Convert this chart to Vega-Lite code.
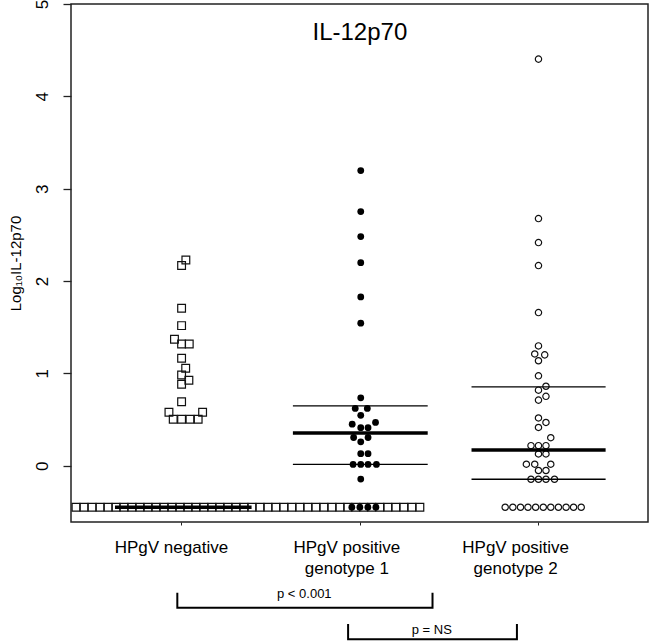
{
  "$schema": "https://vega.github.io/schema/vega-lite/v6.json",
  "width": 577,
  "height": 518,
  "autosize": "none",
  "padding": {"left": 71, "top": 4, "right": 3, "bottom": 121},
  "config": {
    "font": "Liberation Sans",
    "view": {"stroke": "#222", "strokeWidth": 1.5},
    "axis": {"grid": false, "domain": false, "tickColor": "#222", "labelColor": "#000", "titleColor": "#000"}
  },
  "datasets": {
    "pts": [
      {"g": "HPgV negative", "x": 1.025, "y": 2.228}, {"g": "HPgV negative", "x": 1.001, "y": 2.167},
      {"g": "HPgV negative", "x": 1.001, "y": 1.705}, {"g": "HPgV negative", "x": 1.001, "y": 1.517},
      {"g": "HPgV negative", "x": 0.961, "y": 1.369}, {"g": "HPgV negative", "x": 1.001, "y": 1.318},
      {"g": "HPgV negative", "x": 1.044, "y": 1.318}, {"g": "HPgV negative", "x": 1.001, "y": 1.163},
      {"g": "HPgV negative", "x": 1.024, "y": 1.055}, {"g": "HPgV negative", "x": 1.001, "y": 0.983},
      {"g": "HPgV negative", "x": 1.042, "y": 0.925}, {"g": "HPgV negative", "x": 1.001, "y": 0.882},
      {"g": "HPgV negative", "x": 1.001, "y": 0.693}, {"g": "HPgV negative", "x": 0.930, "y": 0.579},
      {"g": "HPgV negative", "x": 1.119, "y": 0.579}, {"g": "HPgV negative", "x": 0.954, "y": 0.503},
      {"g": "HPgV negative", "x": 1.001, "y": 0.503}, {"g": "HPgV negative", "x": 1.048, "y": 0.503},
      {"g": "HPgV negative", "x": 1.094, "y": 0.503},
      {"g": "HPgV negative", "x": 0.408, "y": -0.45}, {"g": "HPgV negative", "x": 0.453, "y": -0.45},
      {"g": "HPgV negative", "x": 0.498, "y": -0.45}, {"g": "HPgV negative", "x": 0.543, "y": -0.45},
      {"g": "HPgV negative", "x": 0.588, "y": -0.45}, {"g": "HPgV negative", "x": 0.633, "y": -0.45},
      {"g": "HPgV negative", "x": 0.677, "y": -0.45}, {"g": "HPgV negative", "x": 0.722, "y": -0.45},
      {"g": "HPgV negative", "x": 0.767, "y": -0.45}, {"g": "HPgV negative", "x": 0.812, "y": -0.45},
      {"g": "HPgV negative", "x": 0.857, "y": -0.45}, {"g": "HPgV negative", "x": 0.902, "y": -0.45},
      {"g": "HPgV negative", "x": 0.947, "y": -0.45}, {"g": "HPgV negative", "x": 0.992, "y": -0.45},
      {"g": "HPgV negative", "x": 1.037, "y": -0.45}, {"g": "HPgV negative", "x": 1.081, "y": -0.45},
      {"g": "HPgV negative", "x": 1.126, "y": -0.45}, {"g": "HPgV negative", "x": 1.171, "y": -0.45},
      {"g": "HPgV negative", "x": 1.216, "y": -0.45}, {"g": "HPgV negative", "x": 1.261, "y": -0.45},
      {"g": "HPgV negative", "x": 1.306, "y": -0.45}, {"g": "HPgV negative", "x": 1.351, "y": -0.45},
      {"g": "HPgV negative", "x": 1.396, "y": -0.45}, {"g": "HPgV negative", "x": 1.441, "y": -0.45},
      {"g": "HPgV negative", "x": 1.486, "y": -0.45}, {"g": "HPgV negative", "x": 1.530, "y": -0.45},
      {"g": "HPgV negative", "x": 1.575, "y": -0.45}, {"g": "HPgV negative", "x": 1.620, "y": -0.45},
      {"g": "HPgV negative", "x": 1.665, "y": -0.45}, {"g": "HPgV negative", "x": 1.710, "y": -0.45},
      {"g": "HPgV negative", "x": 1.755, "y": -0.45}, {"g": "HPgV negative", "x": 1.800, "y": -0.45},
      {"g": "HPgV negative", "x": 1.845, "y": -0.45}, {"g": "HPgV negative", "x": 1.890, "y": -0.45},
      {"g": "HPgV negative", "x": 1.935, "y": -0.45}, {"g": "HPgV negative", "x": 1.979, "y": -0.45},
      {"g": "HPgV negative", "x": 2.024, "y": -0.45}, {"g": "HPgV negative", "x": 2.069, "y": -0.45},
      {"g": "HPgV negative", "x": 2.114, "y": -0.45}, {"g": "HPgV negative", "x": 2.159, "y": -0.45},
      {"g": "HPgV negative", "x": 2.204, "y": -0.45}, {"g": "HPgV negative", "x": 2.249, "y": -0.45},
      {"g": "HPgV negative", "x": 2.294, "y": -0.45}, {"g": "HPgV negative", "x": 2.339, "y": -0.45},
      {"g": "genotype 1", "x": 2.007, "y": 3.196}, {"g": "genotype 1", "x": 2.007, "y": 2.752},
      {"g": "genotype 1", "x": 2.007, "y": 2.481}, {"g": "genotype 1", "x": 2.007, "y": 2.199},
      {"g": "genotype 1", "x": 2.007, "y": 1.828}, {"g": "genotype 1", "x": 2.007, "y": 1.543},
      {"g": "genotype 1", "x": 2.007, "y": 0.735}, {"g": "genotype 1", "x": 1.976, "y": 0.62},
      {"g": "genotype 1", "x": 2.044, "y": 0.62}, {"g": "genotype 1", "x": 2.007, "y": 0.545},
      {"g": "genotype 1", "x": 1.959, "y": 0.449}, {"g": "genotype 1", "x": 2.090, "y": 0.468},
      {"g": "genotype 1", "x": 2.007, "y": 0.412}, {"g": "genotype 1", "x": 2.048, "y": 0.412},
      {"g": "genotype 1", "x": 1.967, "y": 0.305}, {"g": "genotype 1", "x": 2.048, "y": 0.305},
      {"g": "genotype 1", "x": 2.007, "y": 0.258}, {"g": "genotype 1", "x": 2.007, "y": 0.13},
      {"g": "genotype 1", "x": 2.048, "y": 0.13}, {"g": "genotype 1", "x": 1.964, "y": 0.013},
      {"g": "genotype 1", "x": 2.007, "y": 0.013}, {"g": "genotype 1", "x": 2.048, "y": 0.013},
      {"g": "genotype 1", "x": 2.095, "y": 0.013}, {"g": "genotype 1", "x": 2.007, "y": -0.145},
      {"g": "genotype 1", "x": 1.957, "y": -0.45}, {"g": "genotype 1", "x": 2.002, "y": -0.45},
      {"g": "genotype 1", "x": 2.047, "y": -0.45}, {"g": "genotype 1", "x": 2.092, "y": -0.45},
      {"g": "genotype 2", "x": 3.005, "y": 4.403}, {"g": "genotype 2", "x": 3.005, "y": 2.676},
      {"g": "genotype 2", "x": 3.005, "y": 2.416}, {"g": "genotype 2", "x": 3.005, "y": 2.167},
      {"g": "genotype 2", "x": 3.005, "y": 1.658}, {"g": "genotype 2", "x": 3.005, "y": 1.297},
      {"g": "genotype 2", "x": 2.984, "y": 1.21}, {"g": "genotype 2", "x": 3.040, "y": 1.20},
      {"g": "genotype 2", "x": 3.005, "y": 1.136}, {"g": "genotype 2", "x": 3.005, "y": 0.973},
      {"g": "genotype 2", "x": 3.047, "y": 0.86}, {"g": "genotype 2", "x": 3.005, "y": 0.818},
      {"g": "genotype 2", "x": 3.047, "y": 0.751}, {"g": "genotype 2", "x": 3.005, "y": 0.710},
      {"g": "genotype 2", "x": 3.005, "y": 0.517}, {"g": "genotype 2", "x": 3.047, "y": 0.468},
      {"g": "genotype 2", "x": 3.005, "y": 0.414}, {"g": "genotype 2", "x": 3.074, "y": 0.303},
      {"g": "genotype 2", "x": 2.963, "y": 0.217}, {"g": "genotype 2", "x": 3.005, "y": 0.217},
      {"g": "genotype 2", "x": 3.047, "y": 0.217}, {"g": "genotype 2", "x": 3.005, "y": 0.127},
      {"g": "genotype 2", "x": 3.047, "y": 0.127}, {"g": "genotype 2", "x": 2.937, "y": 0.016},
      {"g": "genotype 2", "x": 2.984, "y": 0.016}, {"g": "genotype 2", "x": 3.074, "y": 0.016},
      {"g": "genotype 2", "x": 3.005, "y": -0.052}, {"g": "genotype 2", "x": 3.047, "y": -0.052},
      {"g": "genotype 2", "x": 2.963, "y": -0.147}, {"g": "genotype 2", "x": 3.005, "y": -0.147},
      {"g": "genotype 2", "x": 3.047, "y": -0.147}, {"g": "genotype 2", "x": 3.095, "y": -0.147},
      {"g": "genotype 2", "x": 2.818, "y": -0.45}, {"g": "genotype 2", "x": 2.861, "y": -0.45},
      {"g": "genotype 2", "x": 2.904, "y": -0.45}, {"g": "genotype 2", "x": 2.946, "y": -0.45},
      {"g": "genotype 2", "x": 2.989, "y": -0.45}, {"g": "genotype 2", "x": 3.032, "y": -0.45},
      {"g": "genotype 2", "x": 3.074, "y": -0.45}, {"g": "genotype 2", "x": 3.117, "y": -0.45},
      {"g": "genotype 2", "x": 3.160, "y": -0.45}, {"g": "genotype 2", "x": 3.202, "y": -0.45},
      {"g": "genotype 2", "x": 3.245, "y": -0.45}
    ],
    "stats": [
      {"g": "HPgV negative", "stat": "median", "x": 0.627, "x2": 1.394, "y": -0.45},
      {"g": "genotype 1", "stat": "quartile", "x": 1.626, "x2": 2.383, "y": 0.647},
      {"g": "genotype 1", "stat": "median", "x": 1.626, "x2": 2.383, "y": 0.354},
      {"g": "genotype 1", "stat": "quartile", "x": 1.626, "x2": 2.383, "y": 0.015},
      {"g": "genotype 2", "stat": "quartile", "x": 2.629, "x2": 3.382, "y": 0.853},
      {"g": "genotype 2", "stat": "median", "x": 2.629, "x2": 3.382, "y": 0.170},
      {"g": "genotype 2", "stat": "quartile", "x": 2.629, "x2": 3.382, "y": -0.147}
    ],
    "cats": [
      {"x": 0.944, "y": -0.946, "text": "HPgV negative"},
      {"x": 1.929, "y": -0.946, "text": "HPgV positive"},
      {"x": 1.929, "y": -1.168, "text": "genotype 1"},
      {"x": 2.877, "y": -0.946, "text": "HPgV positive"},
      {"x": 2.877, "y": -1.168, "text": "genotype 2"}
    ],
    "ptext": [
      {"x": 1.690, "y": -1.433, "text": "p < 0.001"},
      {"x": 2.406, "y": -1.827, "text": "p = NS"}
    ],
    "brackets": [
      {"b": 1, "i": 0, "x": 0.977, "y": -1.376}, {"b": 1, "i": 1, "x": 0.977, "y": -1.538},
      {"b": 1, "i": 2, "x": 2.410, "y": -1.538}, {"b": 1, "i": 3, "x": 2.410, "y": -1.376},
      {"b": 2, "i": 0, "x": 1.936, "y": -1.715}, {"b": 2, "i": 1, "x": 1.936, "y": -1.881},
      {"b": 2, "i": 2, "x": 2.884, "y": -1.881}, {"b": 2, "i": 3, "x": 2.884, "y": -1.715}
    ],
    "ttl": [{"x": 2.002, "y": 4.688, "text": "IL-12p70"}]
  },
  "encoding": {
    "x": {
      "field": "x", "type": "quantitative",
      "scale": {"domain": [0.38, 3.62], "nice": false, "zero": false},
      "axis": {"values": [1, 2, 3], "labels": false, "tickSize": 3, "title": null}
    },
    "y": {
      "field": "y", "type": "quantitative",
      "scale": {"domain": [-0.61, 5], "nice": false, "zero": false},
      "axis": {
        "values": [0, 1, 2, 3, 4, 5], "tickSize": 8, "tickWidth": 1.3, "labelAngle": 270,
        "labelAlign": "center", "labelBaseline": "bottom", "labelPadding": 12,
        "labelFontSize": 17, "title": "Log₁₀IL-12p70", "titleFontSize": 15,
        "titleFontWeight": "normal", "titlePadding": 10
      }
    }
  },
  "layer": [
    {
      "data": {"name": "pts"},
      "transform": [{"filter": "datum.g === 'HPgV negative'"}],
      "mark": {"type": "point", "shape": "square", "filled": false, "stroke": "#111", "strokeWidth": 1.2, "size": 60, "opacity": 1}
    },
    {
      "data": {"name": "pts"},
      "transform": [{"filter": "datum.g === 'genotype 1'"}],
      "mark": {"type": "point", "shape": "circle", "filled": true, "fill": "#000", "size": 46, "opacity": 1}
    },
    {
      "data": {"name": "pts"},
      "transform": [{"filter": "datum.g === 'genotype 2'"}],
      "mark": {"type": "point", "shape": "circle", "filled": false, "stroke": "#111", "strokeWidth": 1.2, "size": 40, "opacity": 1}
    },
    {
      "data": {"name": "stats"},
      "mark": {"type": "rule", "color": "#000"},
      "encoding": {
        "x2": {"field": "x2"},
        "strokeWidth": {"field": "stat", "type": "nominal", "scale": {"domain": ["median", "quartile"], "range": [3.5, 1.3]}, "legend": null}
      }
    },
    {
      "data": {"name": "brackets"},
      "mark": {"type": "line", "color": "#000", "strokeWidth": 2, "clip": false},
      "encoding": {
        "detail": {"field": "b", "type": "nominal"},
        "order": {"field": "i", "type": "quantitative"}
      }
    },
    {
      "data": {"name": "cats"},
      "mark": {"type": "text", "fontSize": 17, "align": "center", "baseline": "alphabetic", "color": "#000"},
      "encoding": {"text": {"field": "text"}}
    },
    {
      "data": {"name": "ptext"},
      "mark": {"type": "text", "fontSize": 13, "align": "center", "baseline": "alphabetic", "color": "#000"},
      "encoding": {"text": {"field": "text"}}
    },
    {
      "data": {"name": "ttl"},
      "mark": {"type": "text", "fontSize": 24, "align": "center", "baseline": "middle", "color": "#000"},
      "encoding": {"text": {"field": "text"}}
    }
  ]
}
